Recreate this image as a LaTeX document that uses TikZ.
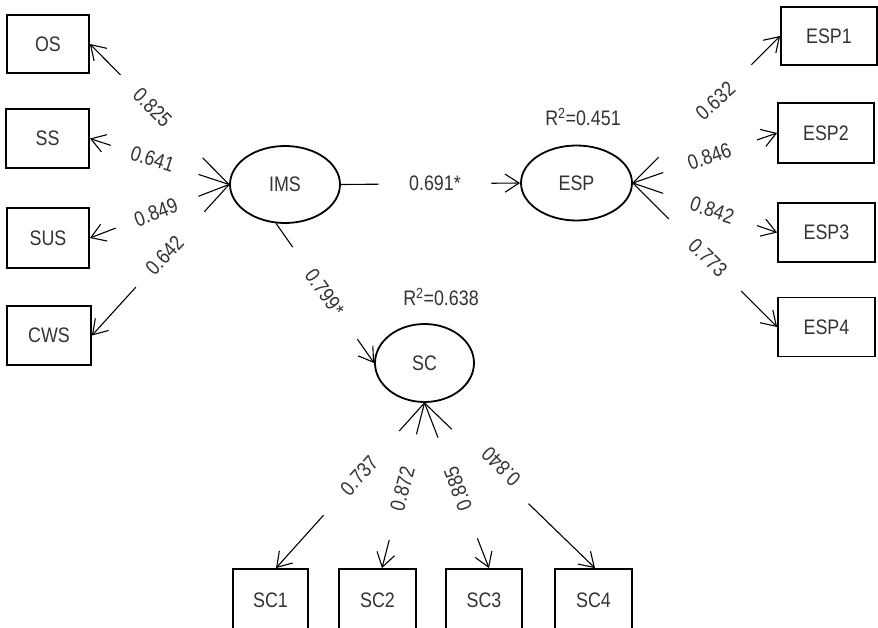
\documentclass[tikz,border=0pt]{standalone}
\usepackage{fontspec}
\setmainfont[FakeStretch=0.85]{Liberation Sans}
\usetikzlibrary{arrows.meta,calc,shapes.geometric}
\begin{document}
\begin{tikzpicture}[x=1pt,y=-1pt,
  txt/.style={font=\fontsize{21}{25}\selectfont, text=black!80},
  box/.style={draw, line width=1.8pt, rectangle, inner sep=0pt, txt},
  lat/.style={draw, line width=1.8pt, ellipse, inner sep=0pt, txt},
  con/.style={line width=1.1pt},
  arr/.style={con, -{Straight Barb[length=14pt,width=18pt]}},
  lbl/.style={txt, inner sep=0pt}]
\useasboundingbox (0,0) rectangle (878,627);
\clip (0,0) rectangle (878,627);

% latent variables
\node[lat, minimum width=110pt, minimum height=77pt] (ims) at (285,184.5) {IMS};
\node[lat, minimum width=111pt, minimum height=75pt] (esp) at (576.5,183) {ESP};
\node[lat, minimum width=99pt, minimum height=78pt] (sc) at (424.5,363) {SC};

% R squared
\node[lbl] (r1) at (583,117) {R\textsuperscript{2}=0.451};
\node[lbl] (r2) at (441,297) {R\textsuperscript{2}=0.638};

% indicator boxes
\node[box, minimum width=82pt, minimum height=58pt] (os) at (48,44) {OS};
\node[box, minimum width=83pt, minimum height=59pt] (ss) at (47.5,138.5) {SS};
\node[box, minimum width=82pt, minimum height=60pt] (sus) at (48,238) {SUS};
\node[box, minimum width=84pt, minimum height=59pt] (cws) at (49,335.5) {CWS};

\node[box, minimum width=96pt, minimum height=58pt] (esp1) at (829,36) {ESP1};
\node[box, minimum width=96pt, minimum height=60pt] (esp2) at (826,133) {ESP2};
\node[box, minimum width=97pt, minimum height=59pt] (esp3) at (826.5,232.5) {ESP3};
\node[box, minimum width=97pt, minimum height=59pt] (esp4) at (826.5,327) {ESP4};

\node[box, minimum width=75pt, minimum height=62pt] (sc1) at (270.5,600) {SC1};
\node[box, minimum width=77pt, minimum height=62pt] (sc2) at (377.5,600) {SC2};
\node[box, minimum width=76pt, minimum height=62pt] (sc3) at (484,600) {SC3};
\node[box, minimum width=77pt, minimum height=62pt] (sc4) at (593.5,600) {SC4};

\coordinate (t1) at ($(sc1.north)+(5.5,0)$);
\coordinate (t2) at ($(sc2.north)+(4.5,0)$);
\coordinate (t3) at ($(sc3.north)+(5,0)$);
\coordinate (t4) at ($(sc4.north)+(1.5,0)$);

% IMS -> left indicators
\draw[con] (ims.west) -- ($(ims.west)!0.19!(os.east)$);
\draw[arr] ($(ims.west)!0.78!(os.east)$) -- (os.east);
\node[lbl, rotate=-45] at ($(ims.west)!0.55!(os.east)$) {0.825};

\draw[con] (ims.west) -- ($(ims.west)!0.22!(ss.east)$);
\draw[arr] ($(ims.west)!0.85!(ss.east)$) -- (ss.east);
\node[lbl, rotate=-17.7] at ($(ims.west)!0.55!(ss.east)$) {0.641};

\draw[con] (ims.west) -- ($(ims.west)!0.22!(sus.east)$);
\draw[arr] ($(ims.west)!0.815!(sus.east)$) -- (sus.east);
\node[lbl, rotate=20.6] at ($(ims.west)!0.525!(sus.east)$) {0.849};

\draw[con] (ims.west) -- ($(ims.west)!0.18!(cws.east)$);
\draw[arr] ($(ims.west)!0.68!(cws.east)$) -- (cws.east);
\node[lbl, rotate=47] at ($(ims.west)!0.47!(cws.east)$) {0.642};

% IMS -> ESP
\draw[con] (ims.east) -- ($(ims.east)!0.21!(esp.west)$);
\draw[arr] ($(ims.east)!0.84!(esp.west)$) -- (esp.west);
\node[lbl] at ($(ims.east)!0.525!(esp.west)$) {0.691*};

% IMS -> SC
\draw[con] (ims.-103) -- ($(ims.-103)!0.17!(sc.west)$);
\draw[arr] ($(ims.-103)!0.83!(sc.west)$) -- (sc.west);
\node[lbl, rotate=-54.7] at ($(ims.-103)!0.495!(sc.west)$) {0.799*};

% ESP -> indicators
\draw[con] (esp.east) -- ($(esp.east)!0.175!(esp1.west)$);
\draw[arr] ($(esp.east)!0.805!(esp1.west)$) -- (esp1.west);
\node[lbl, rotate=42] at ($(esp.east)!0.56!(esp1.west)$) {0.632};

\draw[con] (esp.east) -- ($(esp.east)!0.21!(esp2.west)$);
\draw[arr] ($(esp.east)!0.86!(esp2.west)$) -- (esp2.west);
\node[lbl, rotate=19] at ($(esp.east)!0.53!(esp2.west)$) {0.846};

\draw[con] (esp.east) -- ($(esp.east)!0.21!(esp3.west)$);
\draw[arr] ($(esp.east)!0.86!(esp3.west)$) -- (esp3.west);
\node[lbl, rotate=-18.7] at ($(esp.east)!0.55!(esp3.west)$) {0.842};

\draw[con] (esp.east) -- ($(esp.east)!0.25!(esp4.west)$);
\draw[arr] ($(esp.east)!0.75!(esp4.west)$) -- (esp4.west);
\node[lbl, rotate=-44.6] at ($(esp.east)!0.52!(esp4.west)$) {0.773};

% SC -> indicators
\draw[con] (sc.south) -- ($(sc.south)!0.17!(t1)$);
\draw[arr] ($(sc.south)!0.68!(t1)$) -- (t1);
\node[lbl, rotate=47.9] at ($(sc.south)!0.44!(t1)$) {0.737};

\draw[con] (sc.south) -- ($(sc.south)!0.19!(t2)$);
\draw[arr] ($(sc.south)!0.83!(t2)$) -- (t2);
\node[lbl, rotate=75.2] at ($(sc.south)!0.52!(t2)$) {0.872};

\draw[con] (sc.south) -- ($(sc.south)!0.21!(t3)$);
\draw[arr] ($(sc.south)!0.82!(t3)$) -- (t3);
\node[lbl, rotate=110.8] at ($(sc.south)!0.52!(t3)$) {0.885};

\draw[con] (sc.south) -- ($(sc.south)!0.16!(t4)$);
\draw[arr] ($(sc.south)!0.61!(t4)$) -- (t4);
\node[lbl, rotate=135.5] at ($($(sc.south)!0.385!(t4)$)+(11,0)$) {0.840};
\end{tikzpicture}
\end{document}
